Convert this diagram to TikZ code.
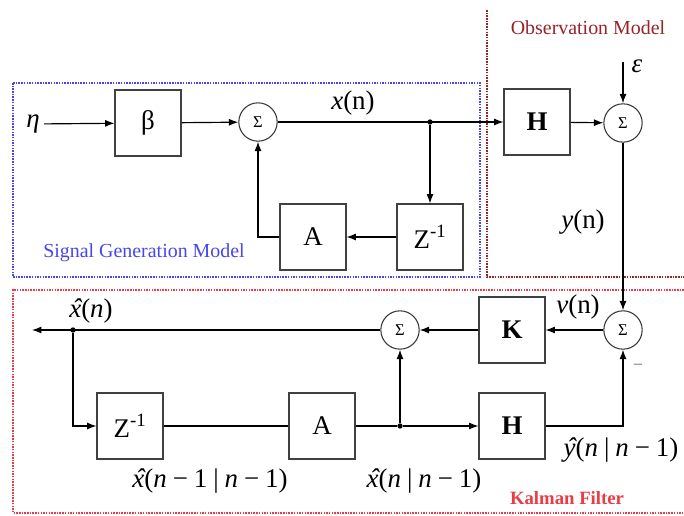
\documentclass[tikz,border=0pt]{standalone}
\usepackage{fontspec}
\setmainfont{Liberation Serif}
\usepackage{xcolor}
\usetikzlibrary{arrows.meta}
\usetikzlibrary{positioning, arrows}

\definecolor{sgblue}{RGB}{70,70,235}
\definecolor{obsred}{RGB}{150,35,40}
\definecolor{kfred}{RGB}{235,60,70}

\newcommand{\vi}[1]{\textit{#1}} % italic variable
\newcommand{\est}[1]{\textit{\ooalign{#1\cr\hidewidth\kern0.12em\char"02C6\hidewidth\cr}}} % variable with a hat
\newcommand{\opsp}{\hspace{0.22em}}

\begin{document}
\begin{tikzpicture} [
	x=0.03cm, y=-0.03cm, % one unit is one pixel of the original picture
	>={Latex[length=8pt,width=6pt]}, % filled arrow heads
	line width=1pt,
	block/.style={draw=black!75, line width=0.9pt, minimum width=1.98cm, minimum height=1.98cm, font=\fontsize{23}{25}\selectfont}, % the boxes
	sum/.style={circle, draw=black!80, line width=0.9pt, minimum size=1.15cm, inner sep=0pt, font=\fontsize{14}{16}\selectfont}, % the adders
	dot/.style={circle, fill, inner sep=0pt, minimum size=0.16cm},
	lbl/.style={font=\fontsize{23}{25}\selectfont},
	region/.style={densely dotted, line width=1.3pt},
	]
	\useasboundingbox (0,0) rectangle (684,516);

	% the three regions
	\draw[region, sgblue] (13,83) rectangle (480,277);
	\draw[region, obsred] (487,10) -- (487,277) -- (684,277);
	\draw[region, kfred] (684,290) -- (13,290) -- (13,513) -- (684,513);
	\node[sgblue, font=\fontsize{17}{20}\selectfont] (sgm) at (144,253) {Signal Generation Model};
	\node[obsred, font=\fontsize{17}{20}\selectfont] (obm) at (588,28) {Observation Model};
	\node[kfred, font=\bfseries\fontsize{16}{19}\selectfont] (kfm) at (567,498) {Kalman Filter};

	% signal generation
	\node[lbl] (eta) at (33,124) {\vi{η}};
	\node[block] (beta) at (148,123) {β};
	\node[sum] (sum1) at (258,122) {Σ};
	\node[dot] (j1) at (430,122) {};
	\node[block] (Z1) at (430,237) {Z\textsuperscript{-1}};
	\node[block] (A1) at (313,237) {A};
	\node[lbl] (xn) at (353,103) {\vi{x}(n)};

	% observation
	\node[block] (H1) at (537,122) {\textbf{H}};
	\node[sum] (sum2) at (623,123) {Σ};
	\coordinate (epsin) at (623,62);
	\node[lbl] (eps) at (637,66) {\vi{ε}};
	\node[lbl] (yn) at (583,222) {\vi{y}(n)};

	% kalman filter
	\node[sum] (sum4) at (623,330) {Σ};
	\node[block] (K) at (512,330) {\textbf{K}};
	\node[sum] (sum3) at (400,330) {Σ};
	\node[dot] (j2) at (73,330) {};
	\coordinate (xout) at (32,330);
	\node[block] (Z2) at (130,426) {Z\textsuperscript{-1}};
	\node[block] (A2) at (322,426) {A};
	\node[dot] (j3) at (400,426) {};
	\node[block] (H2) at (512,426) {\textbf{H}};
	\node[lbl] (vn) at (578,307) {\vi{v}(n)};
	\node[lbl, inner sep=1pt] (xhat) at (91,311) {\est{x}(\vi{n})};
	\node[lbl] (xprev) at (210,481) {\est{x}(\vi{n}\opsp−\opsp1\opsp|\opsp\vi{n}\opsp−\opsp1)};
	\node[lbl] (xpred) at (424,481) {\est{x}(\vi{n}\opsp|\opsp\vi{n}\opsp−\opsp1)};
	\node[lbl] (ypred) at (621,450) {\est{y}(\vi{n}\opsp|\opsp\vi{n}\opsp−\opsp1)};
	\node[black!60, font=\fontsize{14}{16}\selectfont] (minus) at (638,366) {–};

	\draw[->] (eta) -- (beta);
	\draw[->] (beta) -- (sum1);
	\draw[->] (sum1) -- (H1);
	\draw[->] (j1) -- (Z1);
	\draw[->] (Z1) -- (A1);
	\draw[->] (A1.west) -| (sum1.south);
	\draw[->] (H1) -- (sum2);
	\draw[->] (epsin) -- (sum2);
	\draw[->] (sum2) -- (sum4);
	\draw[->] (sum4) -- (K);
	\draw[->] (K) -- (sum3);
	\draw[->] (sum3) -- (xout);
	\draw[->] (j2) |- (Z2);
	\draw (Z2) -- (A2);
	\draw (A2) -- (j3);
	\draw[->] (j3) -- (sum3);
	\draw[->] (j3) -- (H2);
	\draw[->] (H2.east) -| (sum4.south);
\end{tikzpicture}
\end{document}
